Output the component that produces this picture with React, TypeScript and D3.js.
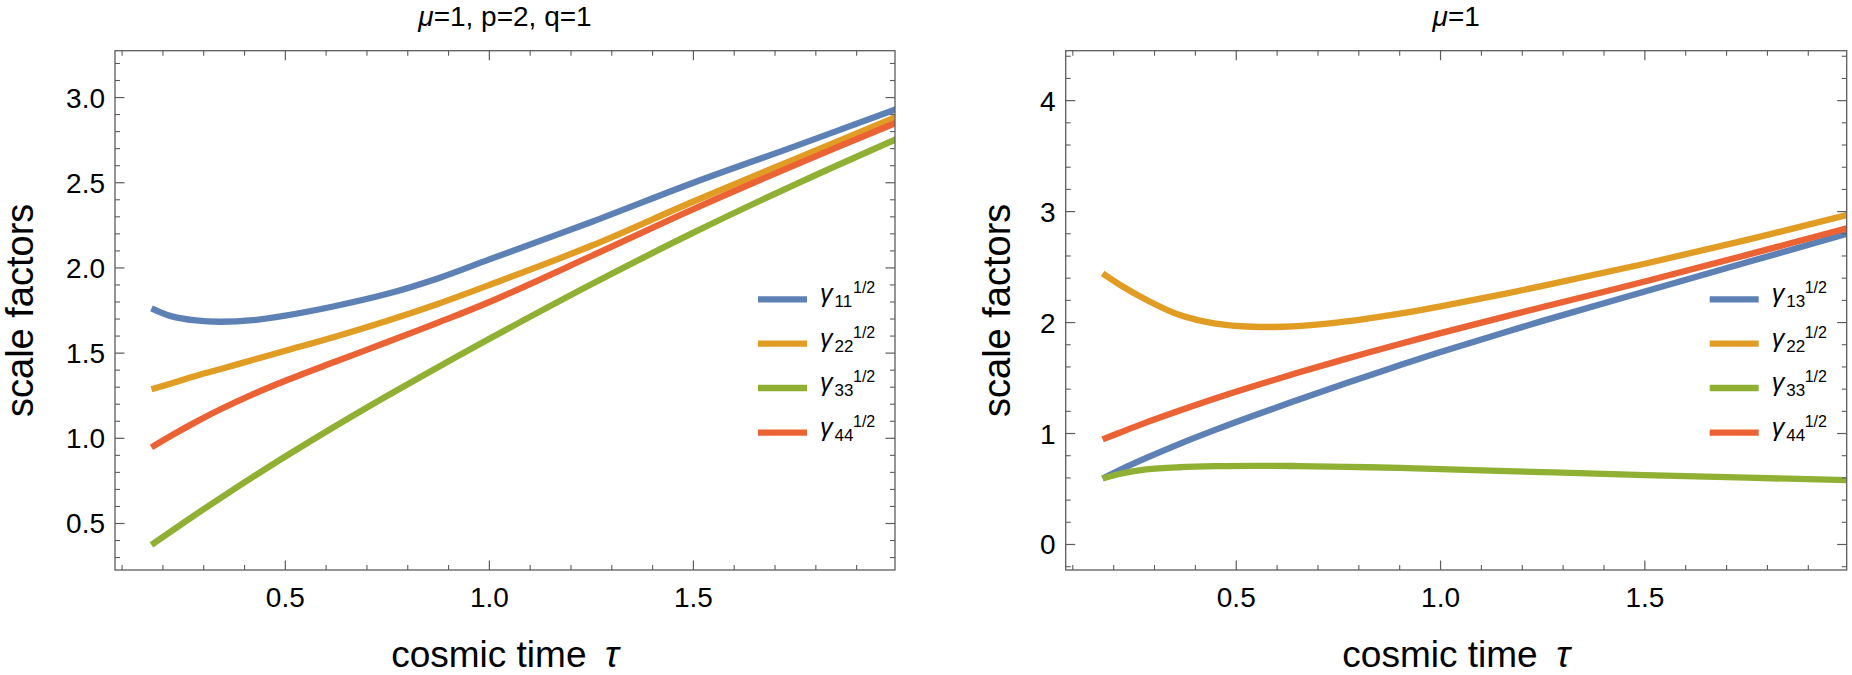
import React from "react";
import * as d3 from "d3";

// ---------- data ----------
const leftTau = [0.172, 0.22, 0.28, 0.34, 0.42, 0.5, 0.62, 0.75, 0.875, 1.0, 1.25, 1.5, 1.75, 2.0];
const leftG11 = [1.763, 1.717, 1.692, 1.684, 1.693, 1.72, 1.775, 1.848, 1.94, 2.05, 2.27, 2.5, 2.715, 2.935];
const leftG22 = [1.288, 1.322, 1.366, 1.405, 1.46, 1.514, 1.595, 1.69, 1.79, 1.9, 2.13, 2.39, 2.64, 2.89];
const leftG33 = [0.374, 0.454, 0.552, 0.648, 0.772, 0.893, 1.068, 1.25, 1.419, 1.584, 1.904, 2.207, 2.491, 2.759];
const leftG44 = [0.947, 1.015, 1.095, 1.169, 1.258, 1.338, 1.448, 1.565, 1.68, 1.8, 2.07, 2.345, 2.605, 2.855];

const rightTau = [0.173, 0.22, 0.28, 0.36, 0.45, 0.54, 0.65, 0.77, 0.9, 1.0, 1.25, 1.5, 1.75, 2.0];
const rightG13 = [0.595, 0.68, 0.78, 0.905, 1.035, 1.158, 1.302, 1.455, 1.615, 1.735, 2.015, 2.28, 2.543, 2.805];
const rightG22 = [2.444, 2.33, 2.205, 2.07, 1.99, 1.962, 1.968, 2.01, 2.08, 2.145, 2.33, 2.53, 2.745, 2.975];
const rightG33 = [0.595, 0.64, 0.676, 0.696, 0.706, 0.709, 0.707, 0.7, 0.69, 0.68, 0.652, 0.625, 0.602, 0.58];
const rightG44 = [0.947, 1.015, 1.1, 1.205, 1.318, 1.424, 1.547, 1.675, 1.807, 1.905, 2.14, 2.37, 2.61, 2.855];

const xMajor = [0.5, 1.0, 1.5];
const xMinor = [0.1, 0.2, 0.3, 0.4, 0.6, 0.7, 0.8, 0.9, 1.1, 1.2, 1.3, 1.4, 1.6, 1.7, 1.8, 1.9];
const leftYMajor = [0.5, 1.0, 1.5, 2.0, 2.5, 3.0];
const leftYMinor = [0.3, 0.4, 0.6, 0.7, 0.8, 0.9, 1.1, 1.2, 1.3, 1.4, 1.6, 1.7, 1.8, 1.9, 2.1, 2.2, 2.3, 2.4, 2.6, 2.7, 2.8, 2.9, 3.1, 3.2];
const rightYMajor = [0, 1, 2, 3, 4];
const rightYMinor = [-0.2, 0.2, 0.4, 0.6, 0.8, 1.2, 1.4, 1.6, 1.8, 2.2, 2.4, 2.6, 2.8, 3.2, 3.4, 3.6, 3.8, 4.2, 4.4];

const colors = ["#5E81B5", "#E19C24", "#8FB032", "#EB6235"];
const leftLegend = ["11", "22", "33", "44"];
const rightLegend = ["13", "22", "33", "44"];

const FONT = "'Liberation Sans', Arial, Helvetica, sans-serif";
const FRAME = "#5c5c5c";

type PanelProps = {
  id: string;
  x0: number;
  x1: number;
  yDomain: [number, number];
  tau: number[];
  series: number[][];
  yMajor: number[];
  yMinor: number[];
  yFmt: (v: number) => string;
  legend: string[];
  title: React.ReactNode;
  yLabelX: number;
};

function Panel(p: PanelProps) {
  const top = 50.7;
  const bottom = 570;
  const x = d3.scaleLinear().domain([0.0826, 1.994]).range([p.x0, p.x1]);
  const y = d3.scaleLinear().domain(p.yDomain).range([bottom, top]);
  const line = d3
    .line<number>()
    .x((_, i) => x(p.tau[i]))
    .y((d) => y(d))
    .curve(d3.curveCatmullRom.alpha(0.5));
  const majLen = 9.5;
  const minLen = 5;
  const cx = (p.x0 + p.x1) / 2;
  const cy = (top + bottom) / 2;
  const legX = p.x1 - 137;
  const legRows = [299.3, 343.7, 388, 432.7];
  return (
    <g>
      <defs>
        <clipPath id={p.id}>
          <rect x={p.x0} y={top} width={p.x1 - p.x0} height={bottom - top} />
        </clipPath>
      </defs>
      <g clipPath={`url(#${p.id})`}>
        {p.series.map((s, i) => (
          <path key={i} d={line(s) || ""} fill="none" stroke={colors[i]} strokeWidth={6.3} strokeLinecap="butt" strokeLinejoin="round" />
        ))}
      </g>
      <rect x={p.x0} y={top} width={p.x1 - p.x0} height={bottom - top} fill="none" stroke={FRAME} strokeWidth={1.3} />
      {xMajor.map((t) => (
        <g key={"xM" + t}>
          <line x1={x(t)} x2={x(t)} y1={bottom} y2={bottom - majLen} stroke={FRAME} strokeWidth={1.2} />
          <line x1={x(t)} x2={x(t)} y1={top} y2={top + majLen} stroke={FRAME} strokeWidth={1.2} />
          <text x={x(t)} y={bottom + 36.7} textAnchor="middle" fontSize={28} fontFamily={FONT} fill="#000">
            {t.toFixed(1)}
          </text>
        </g>
      ))}
      {xMinor.map((t) => (
        <g key={"xm" + t}>
          <line x1={x(t)} x2={x(t)} y1={bottom} y2={bottom - minLen} stroke={FRAME} strokeWidth={1.1} />
          <line x1={x(t)} x2={x(t)} y1={top} y2={top + minLen} stroke={FRAME} strokeWidth={1.1} />
        </g>
      ))}
      {p.yMajor.map((v) => (
        <g key={"yM" + v}>
          <line x1={p.x0} x2={p.x0 + majLen} y1={y(v)} y2={y(v)} stroke={FRAME} strokeWidth={1.2} />
          <line x1={p.x1} x2={p.x1 - majLen} y1={y(v)} y2={y(v)} stroke={FRAME} strokeWidth={1.2} />
          <text x={p.x0 - 10} y={y(v) + 10} textAnchor="end" fontSize={28} fontFamily={FONT} fill="#000">
            {p.yFmt(v)}
          </text>
        </g>
      ))}
      {p.yMinor.map((v) => (
        <g key={"ym" + v}>
          <line x1={p.x0} x2={p.x0 + minLen} y1={y(v)} y2={y(v)} stroke={FRAME} strokeWidth={1.1} />
          <line x1={p.x1} x2={p.x1 - minLen} y1={y(v)} y2={y(v)} stroke={FRAME} strokeWidth={1.1} />
        </g>
      ))}
      <text x={cx} y={26} textAnchor="middle" fontSize={28} fontFamily={FONT} fill="#000">
        {p.title}
      </text>
      <text x={cx} y={667} textAnchor="middle" fontSize={37} fontFamily={FONT} fill="#000">
        cosmic time{"\u2002"}
        <tspan fontStyle="italic">τ</tspan>
      </text>
      <text
        transform={`translate(${p.yLabelX},${cy}) rotate(-90)`}
        textAnchor="middle"
        fontSize={38}
        fontFamily={FONT}
        fill="#000"
      >
        scale factors
      </text>
      {p.legend.map((lab, i) => (
        <g key={"leg" + i}>
          <line x1={legX} x2={legX + 49} y1={legRows[i]} y2={legRows[i]} stroke={colors[i]} strokeWidth={6.3} />
          <text x={legX + 62} y={legRows[i] + 3} fontSize={25} fontStyle="italic" fontFamily={FONT} fill="#000">
            γ
          </text>
          <text x={legX + 76.5} y={legRows[i] + 8} fontSize={17} fontFamily={FONT} fill="#000">
            {lab}
          </text>
          <text x={legX + 95} y={legRows[i] - 6} fontSize={16} fontFamily={FONT} fill="#000">
            1/2
          </text>
        </g>
      ))}
    </g>
  );
}

export default function App() {
  return (
    <div style={{ margin: 0, padding: 0 }}>
      <style>{"body{margin:0;padding:0;overflow:hidden;background:#fff}"}</style>
      <svg width={1852} height={675} style={{ display: "block" }} xmlns="http://www.w3.org/2000/svg">
        <rect width={1852} height={675} fill="#fff" />
        <Panel
          id="clipL"
          x0={115}
          x1={895}
          yDomain={[0.227, 3.275]}
          tau={leftTau}
          series={[leftG11, leftG22, leftG33, leftG44]}
          yMajor={leftYMajor}
          yMinor={leftYMinor}
          yFmt={(v) => v.toFixed(1)}
          legend={leftLegend}
          title={
            <>
              <tspan fontStyle="italic">μ</tspan>=1, p=2, q=1
            </>
          }
          yLabelX={33}
        />
        <Panel
          id="clipR"
          x0={1065.7}
          x1={1846.7}
          yDomain={[-0.23, 4.45]}
          tau={rightTau}
          series={[rightG13, rightG22, rightG33, rightG44]}
          yMajor={rightYMajor}
          yMinor={rightYMinor}
          yFmt={(v) => String(v)}
          legend={rightLegend}
          title={
            <>
              <tspan fontStyle="italic">μ</tspan>=1
            </>
          }
          yLabelX={1010}
        />
      </svg>
    </div>
  );
}
